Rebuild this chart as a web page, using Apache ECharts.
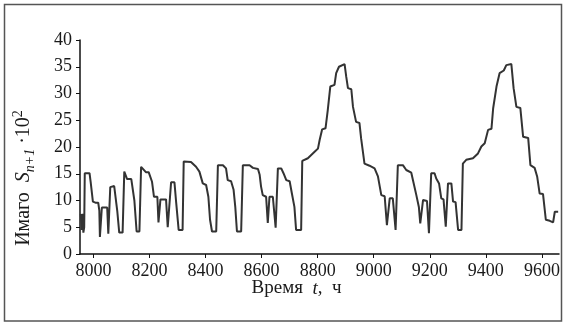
<!DOCTYPE html>
<html>
<head>
<meta charset="utf-8">
<script src="https://cdn.jsdelivr.net/npm/echarts@6/dist/echarts.min.js"></script>
<style>
  html, body { margin: 0; padding: 0; background: #fff; }
  #main { width: 565px; height: 325px; }
</style>
</head>
<body>
<div id="main"></div>
<script>
var chartDom = document.getElementById('main');
var myChart = echarts.init(chartDom);
var option;

// time, hours
const times = [
    7955, 7958, 7961, 7964, 7967, 7969, 7972, 7986, 7990, 7998, 8007, 8017, 8021, 8023, 8030, 8049,
    8053, 8060, 8063, 8074, 8085, 8092, 8104, 8110, 8116, 8120, 8135, 8146, 8154, 8164, 8170, 8176,
    8187, 8197, 8209, 8216, 8228, 8232, 8239, 8259, 8265, 8277, 8289, 8295, 8304, 8318, 8322, 8328,
    8348, 8354, 8366, 8378, 8390, 8402, 8410, 8416, 8423, 8438, 8444, 8462, 8473, 8479, 8491, 8500,
    8506, 8512, 8527, 8533, 8557, 8569, 8587, 8593, 8598, 8604, 8616, 8622, 8628, 8640, 8650, 8658,
    8670, 8678, 8688, 8700, 8708, 8717, 8723, 8741, 8745, 8747, 8765, 8777, 8789, 8801, 8807, 8816,
    8828, 8836, 8845, 8860, 8866, 8876, 8896, 8902, 8908, 8920, 8926, 8937, 8949, 8955, 8967, 8985,
    9003, 9015, 9027, 9039, 9047, 9057, 9068, 9078, 9086, 9104, 9116, 9134, 9140, 9152, 9161, 9166,
    9176, 9190, 9197, 9205, 9217, 9223, 9233, 9241, 9249, 9257, 9265, 9277, 9283, 9292, 9301, 9313,
    9318, 9330, 9354, 9372, 9384, 9396, 9408, 9420, 9426, 9438, 9449, 9464, 9473, 9491, 9499, 9509,
    9523, 9533, 9551, 9559, 9574, 9583, 9592, 9604, 9614, 9628, 9640, 9646, 9658
];

// imago S(n+1) * 10^2
const imago = [
    7.5, 4.5, 7.5, 4, 5, 15.1, 15.1, 15.1, 13.5, 9.8, 9.6, 9.6, 8.1, 3.2, 8.7, 8.7,
    3.8, 12.5, 12.7, 12.7, 8, 4, 4, 15.4, 15.4, 14, 14, 10, 4.2, 4.2, 16.3, 16.3,
    15.3, 15.3, 13.5, 10.7, 10.7, 5.9, 10.2, 10.2, 5, 13.4, 13.4, 9.7, 4.5, 4.5, 17.3, 17.3,
    17.2, 17.25, 16.3, 15.4, 13.2, 12.9, 10.7, 6.4, 4.2, 4.2, 16.6, 16.6, 16, 13.8, 13.6, 12,
    8.8, 4.2, 4.2, 16.6, 16.6, 16.1, 15.9, 14.8, 12.6, 11, 10.7, 5.8, 10.7, 10.7, 4.9, 16,
    16, 15.1, 13.8, 13.6, 11.3, 8.8, 4.5, 4.5, 17.4, 17.6, 17.9, 18.5, 19.1, 19.7, 21.3, 23.3,
    23.5, 26.9, 31.3, 31.6, 33.8, 35, 35.5, 33.1, 31, 30.8, 27.5, 24.7, 24.5, 21.6, 16.9, 16.5,
    16, 14.5, 11, 10.8, 5.4, 10.4, 10.4, 4.5, 16.6, 16.6, 15.7, 15.2, 13.8, 11, 8.8, 5.7,
    10.1, 9.9, 3.9, 15.1, 15.1, 14.1, 13.2, 10.4, 10.2, 5.1, 13.2, 13.2, 9.8, 9.7, 4.5, 4.5,
    16.9, 17.6, 17.9, 18.8, 20.1, 20.7, 23.2, 23.4, 27.2, 31.3, 33.8, 34.3, 35.3, 35.5, 31, 27.5,
    27.3, 21.9, 21.7, 16.6, 16.1, 14.5, 11.3, 11.2, 6.4, 6.2, 5.9, 7.9, 7.9
];

const xTicks = [8000, 8200, 8400, 8600, 8800, 9000, 9200, 9400, 9600];

const serif = '"Liberation Serif", "DejaVu Serif", serif';

option = {
    animation: false,
    backgroundColor: '#fff',
    grid: {
        left: 80,
        right: 6,
        top: 40,
        bottom: 71,
        outerBoundsMode: 'none'
    },
    graphic: [
        {
            type: 'rect',
            shape: { x: 4.5, y: 4.5, width: 557, height: 316.5 },
            style: { fill: 'none', stroke: '#555', lineWidth: 1.5 },
            silent: true
        }
    ],
    xAxis: {
        type: 'value',
        min: 7952,
        max: 9661,
        name: '{a|Время  }{i|t}{a|,  ч}',
        nameLocation: 'middle',
        nameGap: 25,
        nameMoveOverlap: false,
        nameTextStyle: {
            padding: [0, 46, 0, 0],
            rich: {
                a: { fontFamily: serif, fontSize: 19, color: '#1a1a1a' },
                i: { fontFamily: serif, fontSize: 19, fontStyle: 'italic', color: '#1a1a1a' }
            }
        },
        axisLine: { lineStyle: { color: '#111', width: 1.5 } },
        axisTick: { customValues: xTicks, length: 4, lineStyle: { color: '#111' } },
        axisLabel: {
            customValues: xTicks,
            margin: 8,
            fontFamily: serif,
            fontSize: 18,
            color: '#1a1a1a',
            formatter: function (v) {
                return String(v);
            }
        },
        splitLine: { show: false }
    },
    yAxis: {
        type: 'value',
        min: 0,
        max: 40,
        interval: 5,
        name: '{a|Имаго  }{i|S}{sub|n+1}{a| ·10}{sup|2}',
        nameLocation: 'middle',
        nameRotate: 90,
        nameGap: 43,
        nameMoveOverlap: false,
        nameTextStyle: {
            padding: [0, 62, 0, 0],
            rich: {
                a: { fontFamily: serif, fontSize: 20, lineHeight: 26, color: '#1a1a1a' },
                i: { fontFamily: serif, fontSize: 20, lineHeight: 26, fontStyle: 'italic', color: '#1a1a1a' },
                sub: { fontFamily: serif, fontSize: 14, lineHeight: 14, fontStyle: 'italic', verticalAlign: 'bottom', color: '#1a1a1a' },
                sup: { fontFamily: serif, fontSize: 14, lineHeight: 14, verticalAlign: 'top', color: '#1a1a1a' }
            }
        },
        axisLine: { show: true, lineStyle: { color: '#111', width: 1.5 } },
        axisTick: { show: true, length: 4, lineStyle: { color: '#111' } },
        axisLabel: {
            margin: 8,
            fontFamily: serif,
            fontSize: 18,
            color: '#1a1a1a'
        },
        splitLine: { show: false }
    },
    series: [
        {
            type: 'line',
            data: times.map((t, i) => [t, imago[i]]),
            showSymbol: false,
            lineStyle: { color: '#333', width: 2 }
        }
    ]
};

myChart.setOption(option);
</script>
</body>
</html>
